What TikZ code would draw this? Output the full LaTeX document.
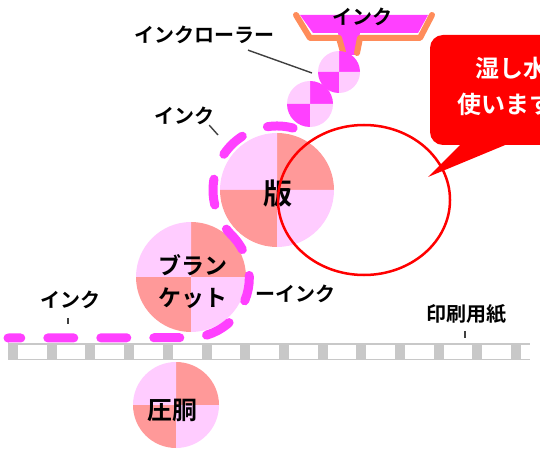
\documentclass[tikz,border=0pt]{standalone}
\usepackage{fontspec}
\newfontfamily\jp{Noto Sans CJK JP}[BoldFont={Noto Sans CJK JP Bold}]
\usepackage{tikz}
\usetikzlibrary{positioning}
\usetikzlibrary{calc}
\definecolor{inkmag}{RGB}{255,64,255}
\definecolor{cyllight}{RGB}{255,204,255}
\definecolor{cyldark}{RGB}{255,153,153}
\definecolor{trayorange}{RGB}{255,140,90}
\definecolor{papergrey}{RGB}{200,200,200}
\tikzstyle{inklabel}=[font=\jp\bfseries\fontsize{20}{22}\selectfont, inner sep=0pt]
\tikzstyle{cyltext}=[font=\jp\bfseries, inner sep=0pt, align=center]
\tikzstyle{balloontext}=[font=\jp\bfseries\fontsize{24}{26}\selectfont, text=white, inner sep=0pt, anchor=west]
\tikzstyle{inkline}=[draw=inkmag, line width=9pt, line cap=round, dash pattern=on 26pt off 27pt, dash phase=47pt]
\tikzstyle{leader}=[draw=black!75, line width=1.4pt]

\begin{document}
\begin{tikzpicture}[x=1pt, y=1pt]

  \useasboundingbox (0,0) rectangle (540,450);
  \clip (0,0) rectangle (540,450);

  % paper
  \fill[papergrey] (8,90) rectangle (530,107);
  \fill[white] (8,91.5) rectangle (530,105.5);
  \foreach \i in {0,...,13}
     \fill[papergrey] (8+38.7*\i, 90) rectangle ++(10,17);

  % ink tray
  \fill[inkmag] (300,435) -- (428,435) -- (418,417) -- (360,417) -- (356,395)
        -- (343,395) -- (338,417) -- (313,417) -- cycle;
  \draw[trayorange, line width=6pt, line cap=round, line join=round]
        (296,435) -- (310,412) -- (339,412) -- (343,398);
  \draw[trayorange, line width=6pt, line cap=round, line join=round]
        (432,435) -- (420,412) -- (360,412) -- (357,397);

  % cylinders and rollers
  \foreach \x/\y/\r/\dk/\name in {176/45/43/cyldark/impression, 191/173/55/cyldark/blanket,
        277/260/57/cyldark/plate, 310/346/23/inkmag/lowroller, 339/378/21/inkmag/uproller}
  {
     \foreach \a/\c in {0/\dk, 90/cyllight, 180/\dk, 270/cyllight}
        \fill[\c] (\x,\y) -- ++(\a:\r pt) arc[start angle=\a, delta angle=90, radius=\r pt] -- cycle;
     \coordinate (\name) at (\x,\y);
  }

  % ink film
  \draw[inkline] ($(plate)+(70:64pt)$) arc[start angle=70, end angle=225, radius=64pt]
        arc[start angle=45, end angle=-90, radius=60pt] -- (8,112);

  \node[cyltext, font=\jp\bfseries\fontsize{29}{32}\selectfont] (platename) at (278,257) {版};
  \node[cyltext, font=\jp\bfseries\fontsize{23}{32}\selectfont] (blanketname) at (193,168) {ブラン\\ケット};
  \node[cyltext, font=\jp\bfseries\fontsize{25}{28}\selectfont] (impressionname) at (172,40) {圧胴};

  % labels
  \node[inklabel] (traytext) at (362,433) {インク};
  \node[inklabel] (rollertext) at (204,415) {インクローラー};
  \node[inklabel] (platetext) at (184,334) {インク};
  \node[inklabel] (blankettext) at (295,156) {ーインク};
  \node[inklabel] (paperink) at (70,150) {インク};
  \node[inklabel] (sheettext) at (466,136) {印刷用紙};

  \coordinate (rollertip) at (312,377);
  \coordinate (platetip) at (218,315);
  \draw[leader] ($(rollertext.south)+(44,-6)$) -- (rollertip);
  \draw[leader] ($(platetext.south east)+(-5,0)$) -- (platetip);
  \draw[leader] ($(paperink.south)+(-2,-9)$) -- ++(0,-6);
  \draw[leader] ($(sheettext.south)+(-1,-7)$) -- ++(0,-7);

  % dampening area
  \draw[red, line width=2.5pt] (364,250) ellipse [x radius=86pt, y radius=75pt];

  \fill[red, rounded corners=13pt] (430,415) rectangle (640,305);
  \fill[red] (462,307) -- (428,273) -- (510,307) -- cycle;
  \node[balloontext] (wettext) at (475,382) {湿し水を};
  \node[balloontext] (usetext) at (457,346) {使います};

\end{tikzpicture}
\end{document}
